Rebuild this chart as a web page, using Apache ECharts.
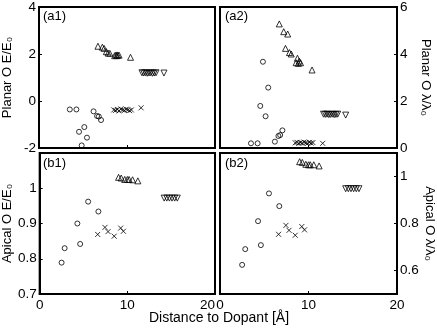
<!DOCTYPE html>
<html>
<head>
<meta charset="utf-8">
<script src="https://cdn.jsdelivr.net/npm/echarts@6/dist/echarts.min.js"></script>
<style>
  html, body { margin: 0; padding: 0; background: #fff; }
  #chart { width: 437px; height: 329px; }
</style>
</head>
<body>
<div id="chart"></div>
<script>
// planar O (top row), shared distances
const planarCircX = [3.5, 4.25, 4.55, 4.85, 5.15, 5.45, 6.2, 6.6, 6.8, 7.05]
const a1CircY = [-0.36, -0.36, -1.31, -1.89, -1.11, -1.56, -0.44, -0.64, -0.66, -0.81]
const a2CircY = [0.2, 0.2, 1.79, 3.67, 1.35, 2.57, 0.27, 0.51, 0.55, 0.75]

const planarTriX = [6.7, 7.2, 7.4, 7.65, 7.85, 8.05, 8.6, 8.75, 8.85, 8.95, 9.1, 10.4]
const a1TriY = [2.33, 2.29, 2.24, 2.1, 2.04, 2.03, 1.93, 1.96, 1.93, 1.96, 1.95, 1.86]
const a2TriY = [5.28, 4.95, 4.24, 4.85, 4.06, 4.0, 3.63, 3.82, 3.6, 3.7, 3.63, 3.32]

const planarDownX = [11.7, 11.9, 12.1, 12.3, 12.5, 12.7, 12.9, 13.1, 13.3, 14.2]
const a1DownY = [1.2, 1.19, 1.2, 1.18, 1.19, 1.2, 1.18, 1.19, 1.2, 1.19]
const a2DownY = [1.44, 1.43, 1.44, 1.42, 1.43, 1.44, 1.42, 1.43, 1.44, 1.4]

const planarCrossX = [8.5, 8.7, 8.9, 9.1, 9.3, 9.5, 9.7, 9.9, 10.1, 10.3, 10.5, 11.6]
const a1CrossY = [-0.38, -0.4, -0.36, -0.42, -0.34, -0.38, -0.4, -0.35, -0.37, -0.41, -0.38, -0.29]
const a2CrossY = [0.22, 0.24, 0.2, 0.23, 0.21, 0.25, 0.22, 0.2, 0.24, 0.21, 0.23, 0.2]

// apical O (bottom row)
const apicalCircX = [2.5, 2.85, 4.3, 4.62, 5.53, 6.7]
const b1CircY = [0.789, 0.83, 0.9, 0.842, 0.962, 0.934]
const b2CircY = [0.624, 0.691, 0.81, 0.708, 0.928, 0.874]

const apicalCrossX = [6.62, 7.45, 7.8, 8.5, 9.24, 9.55]
const b1CrossY = [0.869, 0.889, 0.877, 0.864, 0.887, 0.878]
const b2CrossY = [0.754, 0.792, 0.771, 0.75, 0.787, 0.773]

const apicalTriX = [9.0, 9.3, 9.7, 10.0, 10.2, 10.6, 11.2]
const b1TriY = [1.031, 1.029, 1.025, 1.025, 1.025, 1.024, 1.021]
const b2TriY = [1.063, 1.06, 1.052, 1.05, 1.05, 1.05, 1.045]

const apicalDownX = [14.2, 14.5, 14.8, 15.1, 15.4, 15.7]
const b1DownY = [0.972, 0.972, 0.972, 0.972, 0.972, 0.972]
const b2DownY = [0.948, 0.948, 0.948, 0.948, 0.948, 0.948]

const b2LabelVals = [0.6, 0.8, 1]
const xLabelVals = [0, 10, 20]
const panelNames = ['(a1)', '(a2)', '(b1)', '(b2)']

const FONT = 'Liberation Sans'
const crossPath = 'path://M0,0L10,10M10,0L0,10'

let chart = echarts.init(document.getElementById('chart'))

const pairs = (xs, ys) => xs.map((x, i) => [x, ys[i]])

function marks(idx, xs, ys, kind) {
    let s = {
        type: 'scatter',
        xAxisIndex: idx,
        yAxisIndex: idx,
        data: pairs(xs, ys),
        symbolSize: 5,
        silent: true,
        itemStyle: { color: 'rgba(0,0,0,0)', borderColor: '#000', borderWidth: 1 }
    }
    if (kind === 'circle') { s.symbol = 'circle'; s.symbolSize = 5 }
    if (kind === 'up') { s.symbol = 'triangle'; s.symbolSize = 6 }
    if (kind === 'down') { s.symbol = 'triangle'; s.symbolRotate = 180; s.symbolSize = 6 }
    if (kind === 'cross') { s.symbol = crossPath; s.symbolSize = 5 }
    return s
}

const grids = [
    { left: 38, top: 6, width: 177, height: 142 },
    { left: 220, top: 6, width: 177, height: 142 },
    { left: 38, top: 153, width: 177, height: 141 },
    { left: 220, top: 153, width: 177, height: 141 }
].map(g => Object.assign(g, { show: true, borderColor: '#000', borderWidth: 2, containLabel: false }))

const tickLabel = { color: '#000', fontFamily: FONT, fontSize: 13.5 }

const xAxes = grids.map((g, i) => ({
    type: 'value',
    gridIndex: i,
    min: 0, max: 20, interval: 10,
    axisLine: { show: true, onZero: false, lineStyle: { color: '#000', width: 2 } },
    axisTick: { show: true, inside: true, length: 3, lineStyle: { color: '#000' } },
    splitLine: { show: false },
    axisLabel: Object.assign({
        show: i >= 2,
        margin: 4,
        customValues: xLabelVals,
        showMinLabel: true,
        showMaxLabel: true,
        hideOverlap: false,
        alignMaxLabel: i === 2 ? 'right' : null
    }, tickLabel)
}))

const nameStyle = { color: '#000', fontFamily: FONT, fontSize: 13 }
const baseY = {
    type: 'value',
    axisLine: { show: true, onZero: false, lineStyle: { color: '#000', width: 2 } },
    axisTick: { show: true, inside: true, length: 3, lineStyle: { color: '#000' } },
    splitLine: { show: false },
    nameLocation: 'middle',
    nameTextStyle: nameStyle
}

const yAxes = [
    Object.assign({}, baseY, {
        gridIndex: 0, position: 'left', min: -2, max: 4, interval: 2,
        name: 'Planar O E/E\u2080', nameGap: 25, nameRotate: 90,
        axisLabel: Object.assign({ margin: 3 }, tickLabel)
    }),
    Object.assign({}, baseY, {
        gridIndex: 1, position: 'right', min: 0, max: 6, interval: 2,
        name: 'Planar O \u03bb/\u03bb\u2080', nameGap: 22, nameRotate: -90,
        axisLabel: Object.assign({ margin: 3 }, tickLabel)
    }),
    Object.assign({}, baseY, {
        gridIndex: 2, position: 'left', min: 0.7, max: 1.1, interval: 0.1,
        name: 'Apical O E/E\u2080', nameGap: 25, nameRotate: 90,
        axisLabel: Object.assign({
            margin: 3,
            formatter: v => v > 1.05 ? '' : (Math.abs(v - 1) < 1e-6 ? '1' : v.toFixed(1))
        }, tickLabel)
    }),
    Object.assign({}, baseY, {
        gridIndex: 3, position: 'right', min: 0.5, max: 1.1,
        name: 'Apical O \u03bb/\u03bb\u2080', nameGap: 22, nameRotate: -90,
        axisTick: { show: true, inside: true, length: 3, lineStyle: { color: '#000' }, customValues: b2LabelVals },
        axisLabel: Object.assign({
            margin: 3,
            customValues: b2LabelVals,
            formatter: v => Math.abs(v - 1) < 1e-6 ? '1' : v.toFixed(1)
        }, tickLabel)
    })
]

const series = [
    marks(0, planarCircX, a1CircY, 'circle'),
    marks(0, planarTriX, a1TriY, 'up'),
    marks(0, planarDownX, a1DownY, 'down'),
    marks(0, planarCrossX, a1CrossY, 'cross'),
    marks(1, planarCircX, a2CircY, 'circle'),
    marks(1, planarTriX, a2TriY, 'up'),
    marks(1, planarDownX, a2DownY, 'down'),
    marks(1, planarCrossX, a2CrossY, 'cross'),
    marks(2, apicalCircX, b1CircY, 'circle'),
    marks(2, apicalTriX, b1TriY, 'up'),
    marks(2, apicalDownX, b1DownY, 'down'),
    marks(2, apicalCrossX, b1CrossY, 'cross'),
    marks(3, apicalCircX, b2CircY, 'circle'),
    marks(3, apicalTriX, b2TriY, 'up'),
    marks(3, apicalDownX, b2DownY, 'down'),
    marks(3, apicalCrossX, b2CrossY, 'cross')
]

const labelGraphics = panelNames.map((t, i) => ({
    type: 'text',
    left: grids[i].left + 5,
    top: grids[i].top + 4,
    style: { text: t, font: '13px "' + FONT + '"', fill: '#000' }
}))

chart.setOption({
    animation: false,
    backgroundColor: '#fff',
    grid: grids,
    xAxis: xAxes,
    yAxis: yAxes,
    series: series,
    graphic: labelGraphics.concat([{
        type: 'text',
        x: 219,
        y: 318,
        style: {
            text: 'Distance to Dopant [\u00c5]',
            font: '14px "' + FONT + '"',
            fill: '#000',
            align: 'center',
            verticalAlign: 'middle'
        }
    }])
})
</script>
</body>
</html>
